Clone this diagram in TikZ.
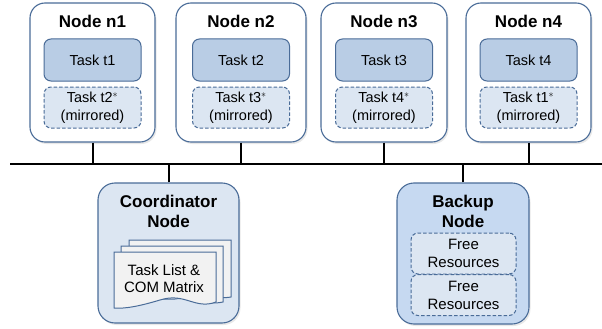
\documentclass[tikz,border=0pt]{standalone}
\usepackage{fontspec}
\setmainfont{Liberation Sans}
\usetikzlibrary{shadows,positioning}
\definecolor{edge}{HTML}{4A6C98}
\definecolor{taskfill}{HTML}{B9CDE5}
\definecolor{mirfill}{HTML}{DCE6F2}
\definecolor{backfill}{HTML}{C6D9F1}
\definecolor{docfill}{HTML}{F2F2F2}
\tikzset{
  shad/.style={drop shadow={opacity=0.18,shadow xshift=1.5pt,shadow yshift=-2pt}},
  hostbox/.style={draw=edge,line width=1.1pt,fill=white,rounded corners=15pt,minimum width=125pt,minimum height=139pt,inner sep=0pt,shad},
  taskbox/.style={draw=edge,line width=1pt,fill=taskfill,rounded corners=7pt,minimum width=97pt,minimum height=42pt,inner sep=0pt,font=\fontsize{14.5}{17}\selectfont},
  mirbox/.style={draw=edge,line width=1pt,dash pattern=on 3.5pt off 2pt,fill=mirfill,rounded corners=7pt,minimum width=97pt,minimum height=41pt,inner sep=0pt,align=center,font=\fontsize{14.5}{18}\selectfont},
  title/.style={font=\bfseries\fontsize{17}{20}\selectfont,align=center,inner sep=0pt},
  bigbox/.style={draw=edge,line width=1.1pt,rounded corners=17pt,inner sep=0pt,shad},
  freebox/.style={draw=edge,line width=1pt,dash pattern=on 3.5pt off 2pt,fill=mirfill,rounded corners=7pt,minimum width=105pt,minimum height=41pt,inner sep=0pt,align=center,font=\fontsize{15}{18}\selectfont},
  doc/.style={draw=edge,line width=1pt,fill=docfill},
  wire/.style={line width=2pt,black},
}
\begin{document}
\begin{tikzpicture}[x=1pt,y=-1pt]
\useasboundingbox (0,0) rectangle (602,329);
% bus
\coordinate (busL) at (10,164);
\coordinate (busR) at (602,164);
% hosts
\foreach \i/\xl/\xr/\a/\b in {1/30/155/1/2, 2/176/306/2/3, 3/321/447/3/4, 4/466/591/4/1}{
  \node[hostbox,minimum width={\xr-\xl}] (n\i) at ({(\xl+\xr)/2},72.5) {};
  \node[title] (n\i t) at ({(\xl+\xr)/2},21) {Node n\i};
  \node[taskbox] (t\i) at ({(\xl+\xr)/2},60) {Task t\a};
  \node[mirbox] (m\i) at ({(\xl+\xr)/2},107.5) {Task t\b$^{*}$\\(mirrored)};
  \draw[wire] (n\i.south) -- (n\i.south |- busL);
}
\draw[wire] (busL) -- (busR);
% coordinator
\node[bigbox,fill=mirfill,minimum width=141pt,minimum height=140pt] (coord) at (168.5,253) {};
\node[title] (coordt) at (168.5,211) {Coordinator\\Node};
\draw[wire] (coord.north) -- (coord.north |- busL);
% document stack
\draw[doc] (129,240) -- (231,240) -- (231,297) .. controls (215,300) and (205,291) .. (190,294) -- (129,294) -- cycle;
\draw[doc] (121,246) -- (223,246) -- (223,302) .. controls (205,306) and (195,296) .. (175,299) -- (121,299) -- cycle;
\draw[doc] (114,252) -- (216,252) -- (216,302) .. controls (195,310) and (185,292) .. (160,300) .. controls (140,306) and (125,309) .. (114,308) -- cycle;
\node[align=center,font=\fontsize{15}{17}\selectfont,inner sep=0pt] (doct) at (164,279) {Task List \&\\COM Matrix};
% backup
\node[bigbox,fill=backfill,minimum width=132pt,minimum height=141pt] (back) at (463,253.5) {};
\node[title] (backt) at (463,211.5) {Backup\\Node};
\node[freebox] (f1) at (463.5,253.5) {Free\\Resources};
\node[freebox] (f2) at (463.5,295) {Free\\Resources};
\draw[wire] (back.north) -- (back.north |- busL);
\end{tikzpicture}
\end{document}
